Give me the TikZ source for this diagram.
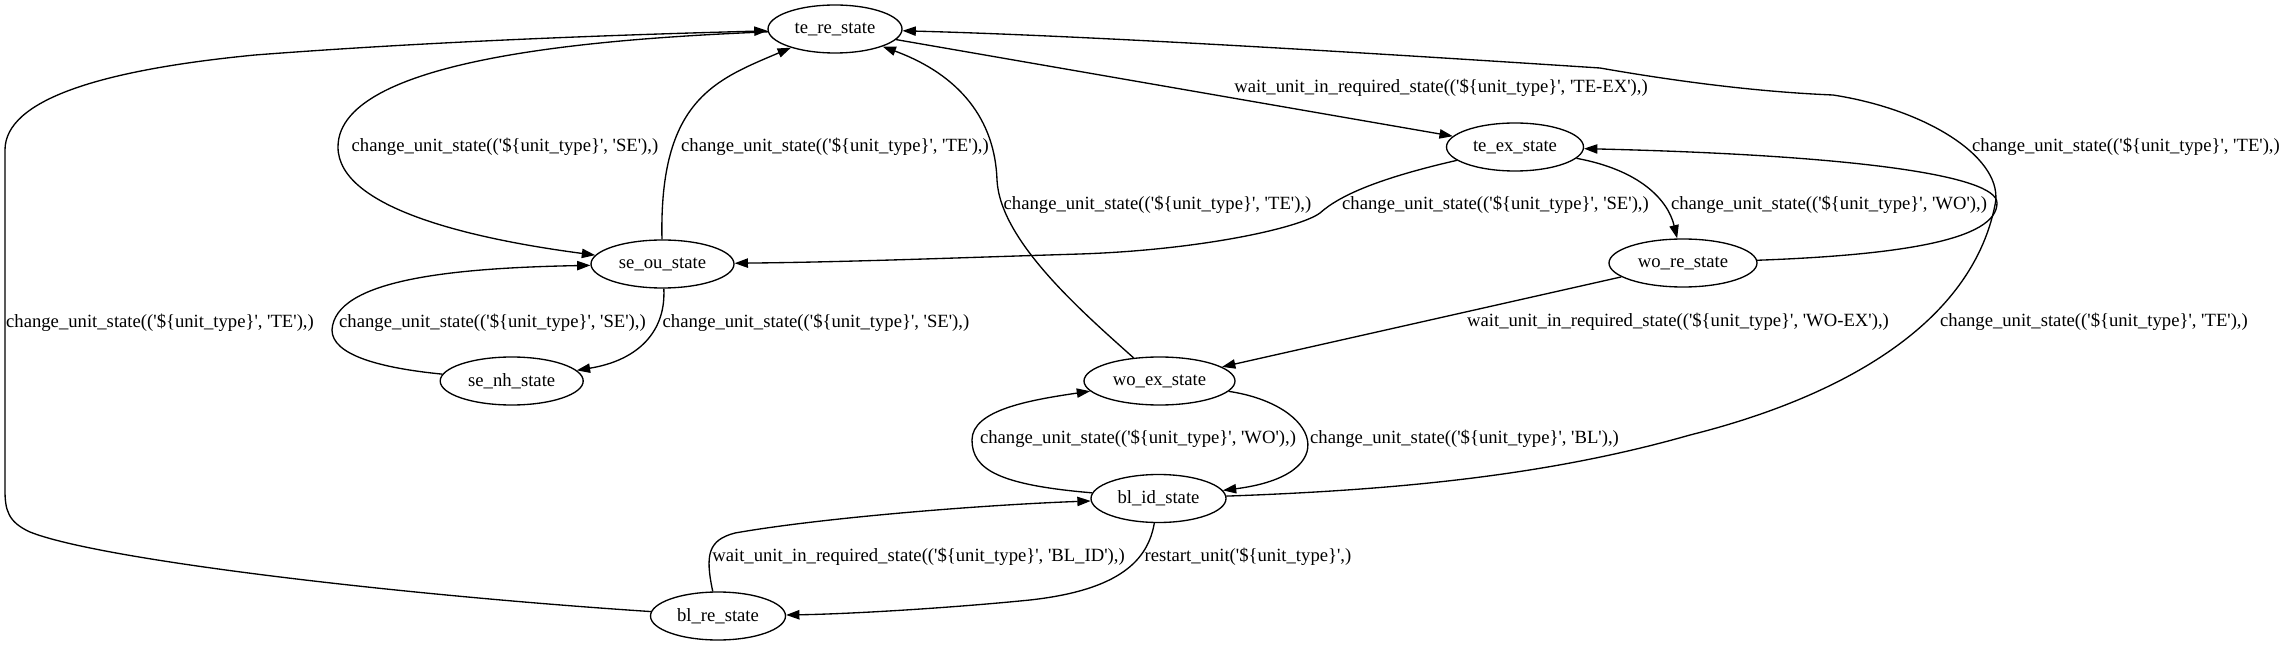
\documentclass[tikz,border=0pt]{standalone}
\usepackage{fontspec}
\newfontfamily\gvfont{Liberation Serif}
\usetikzlibrary{shapes.geometric,arrows.meta}
\newcommand\cus[1]{change\_unit\_state(('\$\{unit\_type\}', '#1'),)}
\newcommand\wuirs[1]{wait\_unit\_in\_required\_state(('\$\{unit\_type\}', '#1'),)}
\begin{document}
\begin{tikzpicture}[x=0.75pt,y=-0.75pt,
  st/.style={ellipse, draw, line width=1pt, inner sep=0pt, minimum height=36pt, font=\gvfont\fontsize{14}{17}\selectfont},
  lbl/.style={inner sep=0pt, font=\gvfont\fontsize{14}{17}\selectfont},
  conn/.style={line width=1pt, -{Triangle[length=10pt,width=7pt]}}]
\useasboundingbox (0,0) rectangle (2285,645);

% states
\node[st, minimum width=100.5pt]  (te_re) at (835,29)    {te\_re\_state};
\node[st, minimum width=107.25pt] (se_ou) at (662.5,264) {se\_ou\_state};
\node[st, minimum width=102.75pt] (te_ex) at (1515,147)  {te\_ex\_state};
\node[st, minimum width=111pt]    (wo_re) at (1683,263)  {wo\_re\_state};
\node[st, minimum width=113.25pt] (wo_ex) at (1159.5,381){wo\_ex\_state};
\node[st, minimum width=101.25pt] (bl_id) at (1158.5,498.5){bl\_id\_state};
\node[st, minimum width=107.25pt] (se_nh) at (511.7,381) {se\_nh\_state};
\node[st, minimum width=101.25pt] (bl_re) at (718,616)   {bl\_re\_state};

% connectors
\draw[conn] (te_re) -- (te_ex);
\draw[conn] (te_re) .. controls (620,38) and (338,55) .. (338,147)
                    .. controls (338,210) and (480,240) .. (se_ou);
\draw[conn] (se_ou) .. controls (659,100) and (715,80) .. (te_re);
\draw[conn] (wo_ex) .. controls (1080,310) and (1000,240) .. (997,180)
                    .. controls (995,120) and (960,75) .. (te_re);
\draw[conn] (te_ex) .. controls (1380,178) and (1340,195) .. (1320,213)
                    .. controls (1300,228) and (1200,250) .. (1080,254)
                    .. controls (950,258) and (850,262) .. (se_ou);
\draw[conn] (te_ex) .. controls (1640,170) and (1668,200) .. (wo_re);
\draw[conn] (wo_re) .. controls (1900,255) and (1997,240) .. (1997,203)
                    .. controls (1997,175) and (1850,155) .. (te_ex);
\draw[conn] (bl_id) .. controls (1400,490) and (1550,475) .. (1690,435)
                    .. controls (1830,400) and (1970,330) .. (1995,205)
                    .. controls (2005,160) and (1930,110) .. (1833,95)
                    .. controls (1760,92) and (1680,82) .. (1600,68)
                    .. controls (1400,55) and (1100,36) .. (te_re);
\draw[conn] (wo_re) -- (wo_ex);
\draw[conn] (wo_ex) .. controls (1320,405) and (1345,475) .. (bl_id);
\draw[conn] (bl_id) .. controls (1000,485) and (972,470) .. (972,440)
                    .. controls (972,410) and (1030,400) .. (wo_ex);
\draw[conn] (bl_re) .. controls (705,555) and (708,540) .. (735,533)
                    .. controls (820,518) and (980,505) .. (bl_id);
\draw[conn] (bl_id) .. controls (1148,560) and (1120,590) .. (1030,600)
                    .. controls (950,608) and (850,614) .. (bl_re);
\draw[conn] (bl_re) .. controls (400,595) and (100,560) .. (30,532)
                    .. controls (8,522) and (5,510) .. (5,490)
                    -- (5,150)
                    .. controls (5,100) and (100,70) .. (255,55)
                    .. controls (450,40) and (650,34) .. (te_re);
\draw[conn] (se_ou) .. controls (666,330) and (640,360) .. (se_nh);
\draw[conn] (se_nh) .. controls (380,368) and (332,355) .. (332,330)
                    .. controls (335,280) and (450,268) .. (se_ou);

% labels
\node[lbl] (l1)  at (1441,88)    {\wuirs{TE-EX}};
\node[lbl] (l2)  at (505,147)    {\cus{SE}};
\node[lbl] (l3)  at (835,147)    {\cus{TE}};
\node[lbl] (l4)  at (1157.5,205) {\cus{TE}};
\node[lbl] (l5)  at (1495.5,205) {\cus{SE}};
\node[lbl] (l6)  at (1829,205)   {\cus{WO}};
\node[lbl] (l7)  at (2126,147)   {\cus{TE}};
\node[lbl] (l8)  at (2094,322)   {\cus{TE}};
\node[lbl] (l9)  at (1678,322)   {\wuirs{WO-EX}};
\node[lbl] (l10) at (1464.5,439) {\cus{BL}};
\node[lbl] (l11) at (1138,439)   {\cus{WO}};
\node[lbl] (l12) at (918.5,557)  {\wuirs{BL\_ID}};
\node[lbl] (l13) at (1248,557)   {restart\_unit('\$\{unit\_type\}',)};
\node[lbl] (l14) at (160,323)    {\cus{TE}};
\node[lbl] (l15) at (816,323)    {\cus{SE}};
\node[lbl] (l16) at (492.5,323)  {\cus{SE}};
\end{tikzpicture}
\end{document}
